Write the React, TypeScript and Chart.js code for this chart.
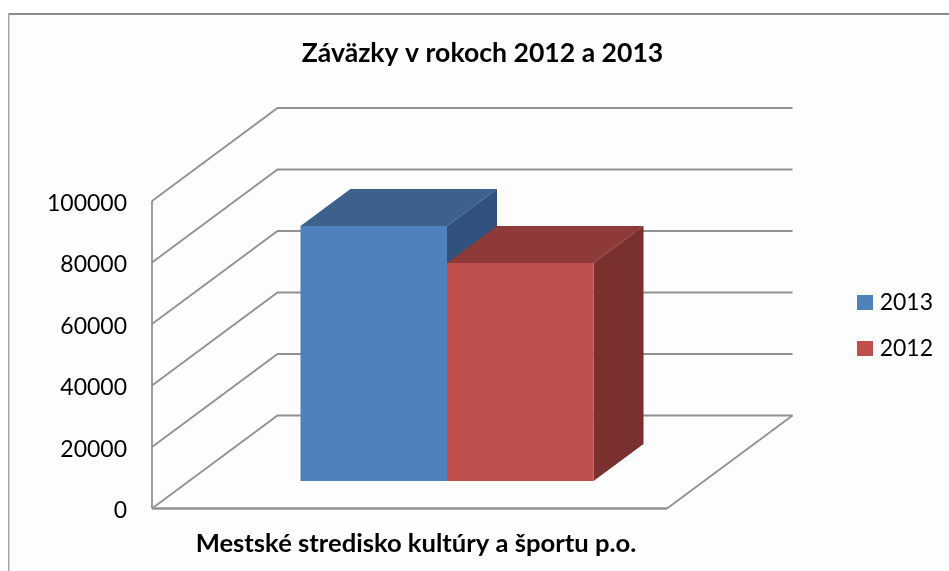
import React, { useEffect, useRef } from "react";
import { Chart, registerables } from "chart.js";

Chart.register(...registerables);

const categories = ["Mestské stredisko kultúry a športu p.o."];
const seriesLabels = ["2013", "2012"];
const values2013 = [82900];
const values2012 = [70900];
const axisMin = 0;
const axisMax = 100000;
const axisStep = 20000;
const titleText = "Záväzky v rokoch 2012 a 2013";

const FRONT = ["#4F81BD", "#C0504D"];
const TOP = ["#3D618D", "#8E3A38"];
const SIDE = ["#30527C", "#7B3030"];
const FONT = "Lato, 'Open Sans', sans-serif";
const GRID = "#929292";

const wall = { dx: 125.5, dy: 93 };
const barPlane = { dx: 37.5, dy: 27.5 };
const barDepth = { dx: 50, dy: 37 };

const poly = (ctx: CanvasRenderingContext2D, pts: number[][], fill: string) => {
  ctx.beginPath();
  pts.forEach(([x, y], i) => (i ? ctx.lineTo(x, y) : ctx.moveTo(x, y)));
  ctx.closePath();
  ctx.fillStyle = fill;
  ctx.fill();
};

const line = (ctx: CanvasRenderingContext2D, pts: number[][], width: number) => {
  ctx.beginPath();
  pts.forEach(([x, y], i) => (i ? ctx.lineTo(x, y) : ctx.moveTo(x, y)));
  ctx.lineWidth = width;
  ctx.strokeStyle = GRID;
  ctx.stroke();
};

const threeD = {
  id: "threeD",
  afterLayout(chart: any) {
    const lg = chart.legend;
    lg.left = 834;
    lg.right = 933;
    lg.top = 268;
    lg.bottom = 400;
    const tt = chart.titleBlock;
    tt.left = 16;
    tt.right = 949;
  },
  beforeDraw(chart: any) {
    const { ctx, width, height } = chart;
    ctx.save();
    ctx.fillStyle = "#FFFFFF";
    ctx.fillRect(0, 0, width, height);
    ctx.fillStyle = "#FDFDFD";
    ctx.fillRect(8, 14, width - 8, height - 14);
    ctx.fillStyle = "#8C8C8C";
    ctx.fillRect(8, 13, width - 8, 2);
    ctx.fillStyle = "#A8A8A8";
    ctx.fillRect(8, 13, 1.5, height - 13);
    ctx.restore();
  },
  beforeDatasetsDraw(chart: any) {
    const { ctx, chartArea, scales } = chart;
    const { left, right, top, bottom } = chartArea;
    ctx.save();
    scales.y.ticks.forEach((t: any) => {
      const y = scales.y.getPixelForValue(t.value);
      line(ctx, [[left, y], [left + wall.dx, y - wall.dy], [right + wall.dx, y - wall.dy]], 1.8);
    });
    line(ctx, [[left, top], [left, bottom]], 1.8);
    line(ctx, [[left, bottom], [right, bottom]], 2.4);
    line(ctx, [[right, bottom], [right + wall.dx, bottom - wall.dy]], 1.8);
    chart.data.datasets.forEach((_: any, di: number) => {
      chart.getDatasetMeta(di).data.forEach((bar: any) => {
        const x0 = bar.x - bar.width / 2 + barPlane.dx;
        const x1 = bar.x + bar.width / 2 + barPlane.dx;
        const y0 = bar.y - barPlane.dy;
        const y1 = bar.base - barPlane.dy;
        poly(ctx, [[x0, y0], [x0 + barDepth.dx, y0 - barDepth.dy], [x1 + barDepth.dx, y0 - barDepth.dy], [x1, y0]], TOP[di]);
        poly(ctx, [[x1, y0], [x1 + barDepth.dx, y0 - barDepth.dy], [x1 + barDepth.dx, y1 - barDepth.dy], [x1, y1]], SIDE[di]);
      });
    });
    ctx.restore();
    ctx.save();
    ctx.translate(barPlane.dx, -barPlane.dy);
  },
  afterDatasetsDraw(chart: any) {
    chart.ctx.restore();
  },
};

export default function App() {
  const ref = useRef<HTMLCanvasElement>(null);
  useEffect(() => {
    const chart = new Chart(ref.current!, {
      type: "bar",
      data: {
        labels: categories,
        datasets: [
          { label: seriesLabels[0], data: values2013, backgroundColor: FRONT[0] },
          { label: seriesLabels[1], data: values2012, backgroundColor: FRONT[1] },
        ],
      },
      plugins: [threeD],
      options: {
        animation: false,
        responsive: false,
        devicePixelRatio: 1,
        layout: { padding: { left: 0, right: 282, top: 0, bottom: 0 } },
        datasets: { bar: { barPercentage: 1, categoryPercentage: 0.569, clip: false } },
        plugins: {
          tooltip: { enabled: false },
          title: {
            display: true,
            text: titleText,
            color: "#000000",
            font: { family: FONT, size: 26.6, weight: "bold", lineHeight: 1.2 },
            padding: { top: 37, bottom: 132.1 },
          },
          legend: {
            position: "chartArea",
            align: "start",
            labels: {
              boxWidth: 16,
              boxHeight: 15,
              padding: 23,
              color: "#000000",
              textAlign: "right",
              font: { family: FONT, size: 23 },
            },
          },
        },
        scales: {
          x: {
            grid: { display: false, drawTicks: false },
            border: { display: false },
            ticks: {
              color: "#000000",
              padding: 20,
              labelOffset: 6.5,
              font: { family: FONT, size: 25.6, weight: "bold" },
            },
            afterFit(s: any) {
              s.height = 62.5;
            },
          },
          y: {
            min: axisMin,
            max: axisMax,
            grid: { display: false, drawTicks: false },
            border: { display: false },
            ticks: {
              stepSize: axisStep,
              color: "#000000",
              padding: 25,
              labelOffset: 2.5,
              font: { family: FONT, size: 23 },
              callback: (v: any) => String(v),
            },
            afterFit(s: any) {
              s.width = 152;
            },
          },
        },
      },
    } as any);
    return () => chart.destroy();
  }, []);
  return (
    <canvas
      ref={ref}
      width={949}
      height={571}
      style={{ position: "absolute", left: 0, top: 0, width: 949, height: 571 }}
    />
  );
}
